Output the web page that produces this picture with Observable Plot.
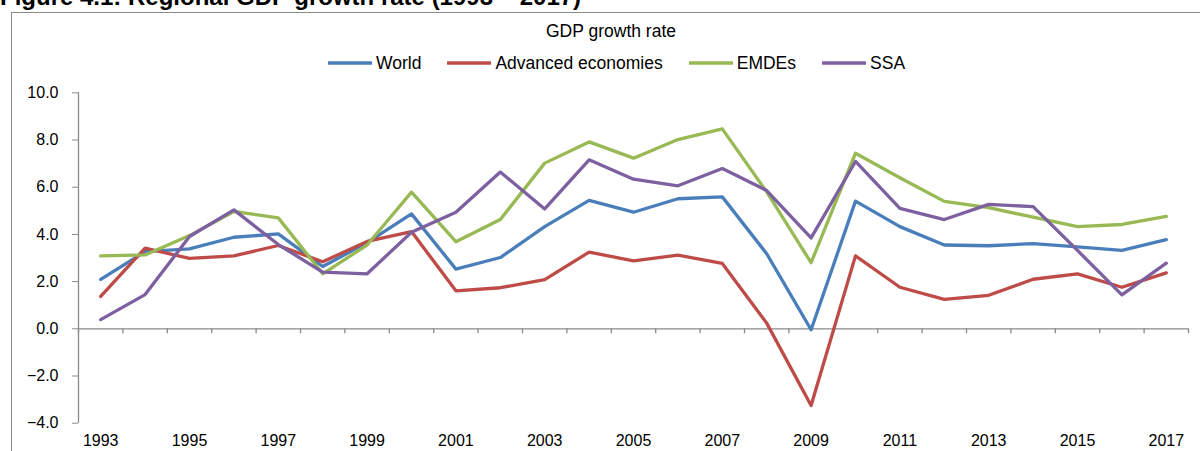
<!DOCTYPE html>
<html>
<head>
<meta charset="utf-8">
<script src="https://cdn.jsdelivr.net/npm/d3@7"></script>
<script src="https://cdn.jsdelivr.net/npm/@observablehq/plot@0.6"></script>
<style>
  html, body { margin: 0; padding: 0; background: #fff; }
  #wrap { position: relative; width: 1200px; height: 451px; overflow: hidden; font-family: "Liberation Sans", Arial, sans-serif; color: #000; }
  #title { position: absolute; left: 0; top: -15px; font-size: 24px; line-height: 24px; font-weight: bold; white-space: nowrap; }
  #frame { position: absolute; left: 11px; top: 12px; width: 1200px; height: 460px; border: 1.5px solid #8a8a8a; box-sizing: border-box; }
  #ctitle { position: absolute; left: 0; width: 1222px; top: 21px; line-height: 20px; font-size: 17.5px; text-align: center; }
  #legend { position: absolute; left: 328px; top: 53px; height: 20px; display: flex; align-items: center; font-size: 17.5px; white-space: nowrap; }
  #legend .item { display: flex; align-items: center; margin-right: 26px; }
  #legend svg { margin-right: 4px; }
  #chart { position: absolute; left: 0; top: 0; }
</style>
</head>
<body>
<div id="wrap">
  <div id="frame"></div>
  <div id="title">Figure 4.1: Regional GDP growth rate (1993 – 2017)</div>
  <div id="ctitle">GDP growth rate</div>
  <div id="legend"></div>
  <div id="chart"></div>
</div>
<script>
const years = [1993,1994,1995,1996,1997,1998,1999,2000,2001,2002,2003,2004,2005,2006,2007,2008,2009,2010,2011,2012,2013,2014,2015,2016,2017];
const world    = [2.09,3.27,3.39,3.88,4.02,2.64,3.65,4.87,2.53,3.02,4.33,5.44,4.94,5.51,5.59,3.18,-0.04,5.41,4.33,3.55,3.52,3.61,3.47,3.32,3.78];
const advanced = [1.37,3.42,2.98,3.09,3.53,2.84,3.70,4.12,1.61,1.74,2.08,3.25,2.88,3.12,2.77,0.24,-3.25,3.09,1.76,1.25,1.42,2.10,2.33,1.76,2.37];
const emdes    = [3.09,3.13,3.95,4.97,4.70,2.33,3.55,5.79,3.69,4.63,7.02,7.92,7.23,8.02,8.47,5.80,2.80,7.44,6.40,5.40,5.13,4.73,4.33,4.42,4.76];
const ssa      = [0.39,1.45,3.91,5.04,3.57,2.40,2.33,4.09,4.94,6.64,5.08,7.16,6.34,6.06,6.79,5.86,3.85,7.09,5.10,4.63,5.27,5.18,3.32,1.44,2.78];
const seriesNames = ["World", "Advanced economies", "EMDEs", "SSA"];
const seriesColors = ["#4a7ebb", "#be4b48", "#98b954", "#7d60a0"];
const yTicks = [-4, -2, 0, 2, 4, 6, 8, 10];
const xLabelYears = years.filter((y, i) => i % 2 === 0);

const seriesValues = [world, advanced, emdes, ssa];
const tidy = [];
seriesNames.forEach((name, s) => {
  years.forEach((yr, i) => tidy.push({series: name, year: yr, value: seriesValues[s][i]}));
});
const boundaries = [years[0] - 0.5, ...years.map(y => y + 0.5)];
const yMin = d3.min(yTicks), yMax = d3.max(yTicks);
const axisGray = "#8a8a8a";

const chart = Plot.plot({
  width: 1200,
  height: 451,
  marginLeft: 78,
  marginRight: 12,
  marginTop: 92.3,
  marginBottom: 28.3,
  style: {fontFamily: '"Liberation Sans", Arial, sans-serif', fontSize: "16px", color: "#000", background: "transparent"},
  x: {domain: [boundaries[0], boundaries[boundaries.length - 1]]},
  y: {domain: [yMin, yMax]},
  color: {domain: seriesNames, range: seriesColors},
  marks: [
    Plot.ruleX([boundaries[0]], {y1: yMin, y2: yMax, stroke: axisGray, strokeWidth: 1.3}),
    Plot.ruleY([0], {stroke: axisGray, strokeWidth: 1.3}),
    Plot.ruleX(boundaries, {y1: 0, y2: 0, insetBottom: -5, stroke: axisGray, strokeWidth: 1.3}),
    Plot.axisY({ticks: yTicks, tickFormat: d3.format(".1f"), tickSize: 6, tickPadding: 14, stroke: axisGray, fill: "#000", fontSize: 16, label: null}),
    Plot.axisX({ticks: xLabelYears, tickFormat: d => String(d), tickSize: 0, tickPadding: 11.6, fill: "#000", fontSize: 16, label: null}),
    Plot.line(tidy, {x: "year", y: "value", z: "series", stroke: "series", strokeWidth: 3.3, strokeLinejoin: "round", strokeLinecap: "round"})
  ]
});
document.getElementById("chart").appendChild(chart);

const legend = document.getElementById("legend");
seriesNames.forEach((name, i) => {
  const item = document.createElement("div");
  item.className = "item";
  item.innerHTML = `<svg width="44" height="6"><line x1="1" y1="3" x2="43" y2="3" stroke="${seriesColors[i]}" stroke-width="3.3" stroke-linecap="round"/></svg><span>${name}</span>`;
  legend.appendChild(item);
});
</script>
</body>
</html>
